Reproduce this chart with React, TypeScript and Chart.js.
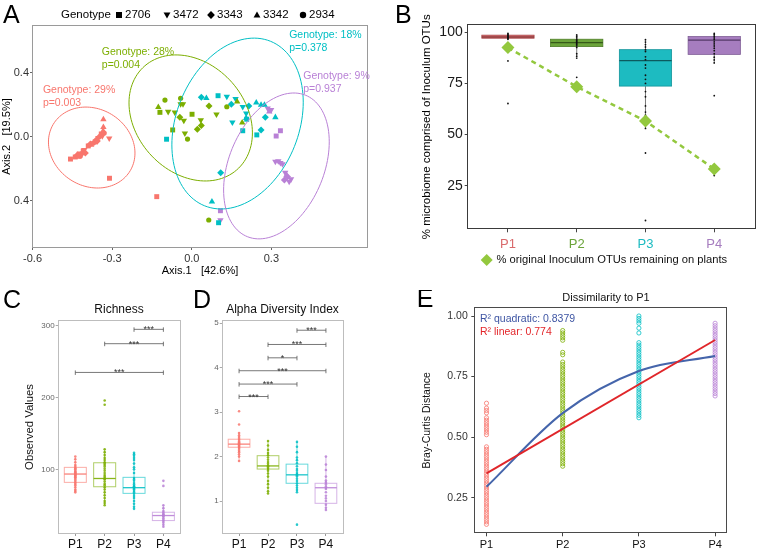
import React, { useEffect, useRef } from "react";
import { Chart, registerables } from "chart.js";

Chart.register(...registerables);

const FONT = "'Liberation Sans', Arial, Helvetica, sans-serif";
const f = (size: number) => `${size}px ${FONT}`;

/* ---------------- shared categories ---------------- */
const stages = ["P1", "P2", "P3", "P4"];
const stageColors = ["#F8766D", "#7CAE00", "#00BFC4", "#B981D6"];
const stageBoxFill = ["#D96A6C", "#6BA43A", "#1DBBC1", "#A67DBF"];
const stageBoxLine = ["#A94B4D", "#4E7E27", "#13949A", "#7E5C95"];
const stageMedian = ["#6E2B2D", "#36591A", "#0C5A5E", "#553A68"];

/* ---------------- A: PCoA (x, y, genotype index) ---------------- */
const genotypes = ["2706", "3472", "3343", "3342", "2934"];
const pcoaP1: [number, number, number][] = [
  [-0.457, -0.138, 0], [-0.439, -0.125, 0], [-0.431, -0.113, 2], [-0.424, -0.106, 0],
  [-0.42, -0.119, 4], [-0.412, -0.1, 2], [-0.427, -0.125, 3], [-0.409, -0.088, 0],
  [-0.405, -0.081, 1], [-0.401, -0.1, 2], [-0.39, -0.056, 0], [-0.382, -0.044, 2],
  [-0.379, -0.05, 3], [-0.371, -0.038, 4], [-0.364, -0.031, 0], [-0.36, -0.019, 2],
  [-0.352, -0.006, 1], [-0.345, 0.006, 2], [-0.341, 0.019, 0], [-0.334, 0.038, 3],
  [-0.33, 0.025, 4], [-0.337, 0.006, 1], [-0.356, -0.025, 2], [-0.333, 0.11, 3],
  [-0.333, 0.061, 3], [-0.311, -0.008, 1], [-0.31, -0.258, 0], [-0.132, -0.373, 0],
];
const pcoaP2: [number, number, number][] = [
  [-0.126, 0.186, 3], [-0.12, 0.154, 0], [-0.101, 0.231, 4], [-0.042, 0.242, 4],
  [-0.042, 0.206, 1], [-0.033, 0.206, 1], [-0.089, 0.158, 1], [-0.064, 0.154, 1],
  [-0.045, 0.123, 2], [0.001, 0.142, 0], [-0.03, 0.102, 1], [0.065, 0.194, 2],
  [0.093, 0.142, 1], [0.034, 0.106, 1], [0.036, 0.071, 2], [0.021, 0.048, 2],
  [-0.072, 0.044, 0], [-0.026, 0.023, 1], [-0.016, -0.013, 4], [0.132, 0.189, 4],
  [0.171, 0.221, 3], [0.19, 0.089, 3], [0.064, -0.519, 4],
];
const pcoaP3: [number, number, number][] = [
  [-0.095, -0.014, 0], [0.036, 0.248, 2], [0.055, 0.242, 3], [0.099, 0.258, 0],
  [0.132, 0.252, 1], [0.165, 0.238, 1], [0.149, 0.204, 2], [0.192, 0.189, 1],
  [0.215, 0.194, 2], [0.205, 0.148, 1], [0.205, 0.117, 3], [0.207, 0.111, 0],
  [0.153, 0.092, 1], [0.243, 0.214, 3], [0.261, 0.2, 3], [0.274, 0.2, 3],
  [0.277, 0.123, 2], [0.315, 0.123, 3], [0.192, 0.039, 0], [0.261, 0.044, 2],
  [0.245, 0.013, 0], [0.109, -0.223, 2], [0.076, -0.404, 3], [0.101, -0.536, 0],
];
const pcoaP4: [number, number, number][] = [
  [0.286, 0.179, 1], [0.299, 0.169, 1], [0.292, 0.158, 3], [0.334, 0.039, 0],
  [0.318, 0.006, 0], [0.315, -0.154, 1], [0.334, -0.161, 1], [0.342, -0.169, 1],
  [0.326, -0.15, 1], [0.352, -0.223, 1], [0.361, -0.248, 2], [0.374, -0.264, 1],
  [0.349, -0.269, 2], [0.367, -0.279, 1], [0.357, -0.238, 3], [0.108, -0.461, 0],
  [0.108, -0.519, 1],
];
// confidence ellipses: centre, x/y half-extent, tilt (cosine of phase)
const ellipseCx = [-0.377, -0.004, 0.1725, 0.319];
const ellipseCy = [-0.066, 0.119, 0.084, -0.181];
const ellipseRx = [0.163, 0.2325, 0.2475, 0.199];
const ellipseRy = [0.253, 0.394, 0.534, 0.456];
const ellipseTilt = [-0.136, -0.238, 0.25, 0.33];
const genotypeR2 = ["29%", "28%", "18%", "9%"];
const genotypeP = ["0.003", "0.004", "0.378", "0.937"];
const pcoaXTicks = [-0.6, -0.3, 0, 0.3];
const pcoaYTicks = [-0.4, 0, 0.4];

/* ---------------- B: inoculum OTUs ---------------- */
const inocQ1 = [97.1, 93.0, 73.7, 89.2];
const inocMed = [97.7, 94.9, 86.1, 96.2];
const inocQ3 = [98.6, 96.6, 91.5, 97.9];
const inocLo = [96.6, 88.5, 53.0, 85.0];
const inocHi = [99.5, 98.7, 96.6, 99.5];
const inocDotsP1 = [99.5, 99.0, 98.6, 98.2, 97.9, 97.6, 97.3, 97.0, 96.6, 86.0, 65.2];
const inocDotsP2 = [98.7, 98.0, 97.3, 96.5, 96.0, 95.5, 95.0, 94.5, 94.0, 93.4, 92.6, 89.5, 88.3, 87.4, 78.0];
const inocDotsP3 = [96.4, 95.2, 94.0, 92.8, 91.5, 90.6, 88.0, 86.6, 84.0, 82.5, 79.0, 77.0, 75.0, 71.0, 68.5, 64.0, 61.0, 59.5, 54.5, 53.0, 41.0, 8.0];
const inocDotsP4 = [99.5, 98.8, 98.0, 97.2, 96.4, 95.3, 94.3, 93.3, 92.2, 91.0, 89.5, 87.8, 86.5, 85.0, 69.0, 30.0];
const remainingPct = [92.5, 73.4, 56.6, 33.2];
const inocYTicks = [25, 50, 75, 100];

/* ---------------- C: richness ---------------- */
const richQ1 = [81.9, 75.8, 66.6, 28.7];
const richMed = [93.5, 87.3, 74.5, 35.7];
const richQ3 = [102.8, 109.2, 88.9, 40.3];
const richLo = [68, 50, 45, 20];
const richHi = [117, 128, 123, 50];
const richDotsP1 = [68, 70, 72, 75, 78, 80, 82, 84, 86, 88, 89, 90, 91, 92, 93, 94, 95, 96, 97, 98, 100, 101, 102, 104, 106, 110, 114, 118];
const richDotsP2 = [50, 53, 56, 60, 64, 68, 72, 75, 78, 80, 83, 86, 87, 88, 90, 92, 95, 98, 101, 104, 106, 108, 110, 113, 116, 120, 124, 128, 190, 196];
const richDotsP3 = [45, 48, 52, 56, 60, 63, 66, 68, 70, 72, 73, 74, 75, 76, 77, 79, 81, 84, 86, 88, 95, 100, 103, 108, 113, 116, 119, 121, 123];
const richDotsP4 = [20, 23, 26, 28, 30, 32, 34, 35, 36, 37, 38, 40, 42, 46, 50, 77, 84];
const richSigFrom = [3, 2, 1];
const richSigTo = [4, 4, 4];
const richSigY = [295, 275, 235];
const richSigLabel = ["***", "***", "***"];
const richYTicks = [100, 200, 300];

/* ---------------- D: alpha diversity ---------------- */
const alphaQ1 = [2.21, 1.72, 1.40, 0.95];
const alphaMed = [2.28, 1.79, 1.59, 1.30];
const alphaQ3 = [2.39, 2.02, 1.83, 1.40];
const alphaLo = [1.9, 1.17, 1.2, 0.8];
const alphaHi = [2.55, 2.35, 2.33, 2.0];
const alphaDotsP1 = [1.9, 2.0, 2.05, 2.1, 2.13, 2.17, 2.2, 2.22, 2.24, 2.26, 2.28, 2.3, 2.32, 2.34, 2.37, 2.4, 2.44, 2.48, 2.53, 2.72, 3.02];
const alphaDotsP2 = [1.17, 1.22, 1.3, 1.38, 1.45, 1.55, 1.62, 1.68, 1.72, 1.75, 1.78, 1.8, 1.84, 1.88, 1.93, 1.98, 2.03, 2.08, 2.15, 2.25, 2.35];
const alphaDotsP3 = [0.47, 1.2, 1.25, 1.3, 1.35, 1.4, 1.45, 1.5, 1.55, 1.58, 1.6, 1.63, 1.68, 1.72, 1.78, 1.85, 1.92, 1.98, 2.1, 2.22, 2.33];
const alphaDotsP4 = [0.8, 0.85, 0.92, 1.0, 1.06, 1.12, 1.2, 1.27, 1.3, 1.33, 1.38, 1.42, 1.46, 1.55, 1.7, 1.82, 2.0];
const alphaSigFrom = [3, 2, 2, 1, 1, 1];
const alphaSigTo = [4, 4, 3, 4, 3, 2];
const alphaSigY = [4.84, 4.52, 4.22, 3.93, 3.63, 3.35];
const alphaSigLabel = ["***", "***", "*", "***", "***", "***"];
const alphaYTicks = [1, 2, 3, 4, 5];

/* ---------------- E: Bray-Curtis to P1 ---------------- */
const brayP1 = [0.14, 0.15, 0.16, 0.17, 0.18, 0.19, 0.20, 0.21, 0.22, 0.23, 0.24, 0.25, 0.26, 0.27, 0.28, 0.29, 0.30, 0.31, 0.32, 0.33, 0.34, 0.35, 0.36, 0.37, 0.38, 0.39, 0.40, 0.41, 0.42, 0.43, 0.44, 0.45, 0.46, 0.51, 0.52, 0.53, 0.54, 0.55, 0.56, 0.57, 0.58, 0.60, 0.61, 0.62, 0.64];
const brayP2 = [0.38, 0.39, 0.40, 0.41, 0.42, 0.43, 0.44, 0.45, 0.46, 0.47, 0.48, 0.49, 0.50, 0.51, 0.52, 0.53, 0.54, 0.55, 0.56, 0.57, 0.58, 0.59, 0.60, 0.61, 0.62, 0.63, 0.64, 0.65, 0.66, 0.67, 0.68, 0.69, 0.70, 0.71, 0.72, 0.73, 0.74, 0.75, 0.76, 0.77, 0.78, 0.79, 0.80, 0.81, 0.84, 0.85, 0.90, 0.91, 0.92, 0.93, 0.94];
const brayP3 = [0.58, 0.59, 0.60, 0.61, 0.62, 0.63, 0.64, 0.65, 0.66, 0.67, 0.68, 0.69, 0.70, 0.71, 0.72, 0.73, 0.74, 0.75, 0.76, 0.77, 0.78, 0.79, 0.80, 0.81, 0.82, 0.83, 0.84, 0.85, 0.86, 0.87, 0.88, 0.89, 0.93, 0.95, 0.97, 0.98, 0.99, 1.00];
const brayP4 = [0.67, 0.68, 0.69, 0.70, 0.71, 0.72, 0.73, 0.74, 0.75, 0.76, 0.77, 0.78, 0.79, 0.80, 0.81, 0.82, 0.83, 0.84, 0.85, 0.86, 0.87, 0.88, 0.89, 0.90, 0.91, 0.92, 0.93, 0.94, 0.95, 0.96, 0.97];
const quadFit = [0.295, 0.599, 0.773, 0.835];
const linearFitEnds = [0.35, 0.901];
const brayYTicks = [0.25, 0.5, 0.75, 1.0];

/* ---------------- helpers ---------------- */
function hexA(hex: string, a: number) {
  const n = parseInt(hex.slice(1), 16);
  return `rgba(${(n >> 16) & 255},${(n >> 8) & 255},${n & 255},${a})`;
}

type TextItem = {
  text: string; x: number; y: number; font: string; color?: string;
  align?: CanvasTextAlign; baseline?: CanvasTextBaseline; data?: boolean;
};

function textPlugin(items: TextItem[]) {
  return {
    id: "texts",
    afterDraw(chart: any) {
      const ctx = chart.ctx as CanvasRenderingContext2D;
      ctx.save();
      for (const t of items) {
        const x = t.data ? chart.scales.x.getPixelForValue(t.x) : t.x;
        const y = t.data ? chart.scales.y.getPixelForValue(t.y) : t.y;
        ctx.font = t.font;
        ctx.fillStyle = t.color ?? "#000";
        ctx.textAlign = t.align ?? "left";
        ctx.textBaseline = t.baseline ?? "middle";
        ctx.fillText(t.text, x, y);
      }
      ctx.restore();
    },
  };
}

function drawShape(ctx: CanvasRenderingContext2D, shape: number, x: number, y: number, r: number, color: string) {
  ctx.fillStyle = color;
  ctx.beginPath();
  if (shape === 0) ctx.rect(x - r, y - r, 2 * r, 2 * r);
  else if (shape === 1) { ctx.moveTo(x - r * 1.15, y - r * 0.8); ctx.lineTo(x + r * 1.15, y - r * 0.8); ctx.lineTo(x, y + r * 1.2); ctx.closePath(); }
  else if (shape === 2) { ctx.moveTo(x, y - r * 1.3); ctx.lineTo(x + r * 1.3, y); ctx.lineTo(x, y + r * 1.3); ctx.lineTo(x - r * 1.3, y); ctx.closePath(); }
  else if (shape === 3) { ctx.moveTo(x - r * 1.15, y + r * 0.8); ctx.lineTo(x + r * 1.15, y + r * 0.8); ctx.lineTo(x, y - r * 1.2); ctx.closePath(); }
  else ctx.arc(x, y, r, 0, Math.PI * 2);
  ctx.fill();
}

function shapePlugin(items: { shape: number; x: number; y: number; r: number; color: string }[]) {
  return {
    id: "shapes",
    afterDraw(chart: any) {
      const ctx = chart.ctx as CanvasRenderingContext2D;
      ctx.save();
      for (const s of items) drawShape(ctx, s.shape, s.x, s.y, s.r, s.color);
      ctx.restore();
    },
  };
}

function framePlugin(color: string) {
  return {
    id: "frame",
    afterDatasetsDraw(chart: any) {
      const { ctx, chartArea: a } = chart;
      ctx.save();
      ctx.strokeStyle = color;
      ctx.lineWidth = 1;
      ctx.strokeRect(Math.round(a.left) + 0.5, Math.round(a.top) + 0.5, Math.round(a.right - a.left) - 1, Math.round(a.bottom - a.top) - 1);
      ctx.restore();
    },
  };
}

type Box = {
  x: number; q1: number; med: number; q3: number; lo: number; hi: number; half: number;
  fill: string; stroke: string; median: string; whisker: string; lw: number; medLw: number;
};

function boxPlugin(boxes: Box[]) {
  return {
    id: "boxes",
    beforeDatasetsDraw(chart: any) {
      const { ctx } = chart;
      const xs = chart.scales.x, ys = chart.scales.y;
      ctx.save();
      for (const b of boxes) {
        const cx = xs.getPixelForValue(b.x);
        const x0 = xs.getPixelForValue(b.x - b.half);
        const x1 = xs.getPixelForValue(b.x + b.half);
        const yq1 = ys.getPixelForValue(b.q1);
        const yq3 = ys.getPixelForValue(b.q3);
        ctx.strokeStyle = b.whisker;
        ctx.lineWidth = b.lw;
        ctx.beginPath();
        ctx.moveTo(cx, ys.getPixelForValue(b.hi)); ctx.lineTo(cx, yq3);
        ctx.moveTo(cx, yq1); ctx.lineTo(cx, ys.getPixelForValue(b.lo));
        ctx.stroke();
        ctx.fillStyle = b.fill;
        ctx.fillRect(x0, yq3, x1 - x0, yq1 - yq3);
        ctx.strokeStyle = b.stroke;
        ctx.strokeRect(x0, yq3, x1 - x0, yq1 - yq3);
        const ym = ys.getPixelForValue(b.med);
        ctx.strokeStyle = b.median;
        ctx.lineWidth = b.medLw;
        ctx.beginPath(); ctx.moveTo(x0, ym); ctx.lineTo(x1, ym); ctx.stroke();
      }
      ctx.restore();
    },
  };
}

function bracketPlugin(from: number[], to: number[], ys: number[], labels: string[]) {
  return {
    id: "brackets",
    afterDatasetsDraw(chart: any) {
      const { ctx } = chart;
      const sx = chart.scales.x, sy = chart.scales.y;
      ctx.save();
      ctx.strokeStyle = "#555";
      ctx.lineWidth = 0.8;
      ctx.fillStyle = "#333";
      ctx.font = f(9);
      ctx.textAlign = "center";
      ctx.textBaseline = "alphabetic";
      from.forEach((a, i) => {
        const xa = sx.getPixelForValue(a), xb = sx.getPixelForValue(to[i]), y = sy.getPixelForValue(ys[i]);
        ctx.beginPath();
        ctx.moveTo(xa, y); ctx.lineTo(xb, y);
        ctx.moveTo(xa, y - 2); ctx.lineTo(xa, y + 2.5);
        ctx.moveTo(xb, y - 2); ctx.lineTo(xb, y + 2.5);
        ctx.stroke();
        ctx.fillText(labels[i], (xa + xb) / 2, y + 3);
      });
      ctx.restore();
    },
  };
}

function ellipsePlugin() {
  return {
    id: "ellipses",
    afterDatasetsDraw(chart: any) {
      const { ctx, chartArea: a } = chart;
      const sx = chart.scales.x, sy = chart.scales.y;
      ctx.save();
      ctx.beginPath(); ctx.rect(a.left, a.top, a.right - a.left, a.bottom - a.top); ctx.clip();
      ctx.lineWidth = 1;
      ellipseCx.forEach((cx, i) => {
        const phi = Math.acos(ellipseTilt[i]);
        ctx.strokeStyle = stageColors[i];
        ctx.beginPath();
        for (let k = 0; k <= 120; k++) {
          const t = (k / 120) * Math.PI * 2;
          const px = sx.getPixelForValue(cx + ellipseRx[i] * Math.cos(t));
          const py = sy.getPixelForValue(ellipseCy[i] + ellipseRy[i] * Math.cos(t - phi));
          if (k === 0) ctx.moveTo(px, py); else ctx.lineTo(px, py);
        }
        ctx.stroke();
      });
      ctx.restore();
    },
  };
}

function linAxis(o: {
  min: number; max: number; ticks: number[]; fmt: (v: number) => string; size: number;
  color: any; tl: number; pad: number; tickColor: string; w?: number; h?: number;
  title?: { text: string; size: number; padding: any; color?: string };
}) {
  return {
    type: "linear",
    min: o.min,
    max: o.max,
    afterFit: (s: any) => {
      if (o.w !== undefined) s.width = o.w;
      if (o.h !== undefined) s.height = o.h;
    },
    afterBuildTicks: (s: any) => {
      s.ticks = o.ticks.map((v) => ({ value: v }));
    },
    ticks: {
      autoSkip: false, maxRotation: 0, minRotation: 0, padding: o.pad, color: o.color,
      font: { family: FONT, size: o.size }, callback: (v: any) => o.fmt(Number(v)),
    },
    grid: { display: true, drawOnChartArea: false, drawTicks: true, tickLength: o.tl, color: o.tickColor, lineWidth: 1 },
    border: { display: false },
    title: o.title
      ? { display: true, text: o.title.text, color: o.title.color ?? "#000", font: { family: FONT, size: o.title.size }, padding: o.title.padding }
      : { display: false },
  };
}

const baseOptions = {
  responsive: false,
  maintainAspectRatio: false,
  animation: false,
  events: [],
};
const noPlugins = { legend: { display: false }, tooltip: { enabled: false } };

/* ---------------- panel builders ---------------- */
function buildA() {
  const groups = [pcoaP1, pcoaP2, pcoaP3, pcoaP4];
  const style = ["rect", "triangle", "rectRot", "triangle", "circle"];
  const rad = [3.5, 3.7, 3.5, 3.7, 2.6];
  const labelX = [-0.561, -0.339, 0.367, 0.42];
  const labelY = [0.294, 0.531, 0.6375, 0.381];
  const texts: TextItem[] = [{ text: "A", x: 3, y: 23, font: f(25), baseline: "alphabetic" }];
  genotypeR2.forEach((r, i) => {
    texts.push({ text: `Genotype: ${r}`, x: labelX[i], y: labelY[i], data: true, font: f(10.5), color: stageColors[i] });
    texts.push({ text: `p=${genotypeP[i]}`, x: labelX[i], y: labelY[i] - 0.08, data: true, font: f(10.5), color: stageColors[i] });
  });
  const legendShapeX = [119, 167, 211, 257, 303];
  texts.push({ text: "Genotype", x: 61, y: 15, font: f(11.5) });
  genotypes.forEach((g, i) => texts.push({ text: g, x: legendShapeX[i] + 6, y: 15, font: f(11.5) }));
  const shapes = genotypes.map((_, i) => ({ shape: i, x: legendShapeX[i], y: 15, r: i === 4 ? 3.2 : 3, color: "#000" }));
  return {
    type: "scatter",
    data: {
      datasets: groups.map((pts, gi) => ({
        data: pts.map((p) => ({ x: p[0], y: p[1] })),
        pointStyle: pts.map((p) => style[p[2]]),
        pointRotation: pts.map((p) => (p[2] === 1 ? 180 : 0)),
        pointRadius: pts.map((p) => rad[p[2]]),
        pointBackgroundColor: stageColors[gi],
        pointBorderWidth: 0,
      })),
    },
    options: {
      ...baseOptions,
      layout: { padding: { left: 0, top: 25, right: 3, bottom: 0 } },
      plugins: noPlugins,
      scales: {
        x: linAxis({
          min: -0.602, max: 0.664, ticks: pcoaXTicks, fmt: (v) => v.toFixed(1), size: 11, color: "#333",
          tl: 2, pad: 2, tickColor: "#666", h: 42,
          title: { text: "Axis.1   [42.6%]", size: 11, padding: { top: 0, bottom: 12 } },
        }),
        y: linAxis({
          min: -0.694, max: 0.70, ticks: pcoaYTicks, fmt: (v) => Math.abs(v).toFixed(1), size: 11, color: "#333",
          tl: 2, pad: 1, tickColor: "#666", w: 32,
          title: { text: "Axis.2   [19.5%]", size: 11, padding: { top: 0.5, bottom: 0 } },
        }),
      },
    },
    plugins: [framePlugin("#9a9a9a"), ellipsePlugin(), textPlugin(texts), shapePlugin(shapes)],
  };
}

function buildB() {
  const LIME = "#93C83E";
  const dots = [inocDotsP1, inocDotsP2, inocDotsP3, inocDotsP4];
  const boxes: Box[] = stages.map((_, i) => ({
    x: i + 1, q1: inocQ1[i], med: inocMed[i], q3: inocQ3[i], lo: inocLo[i], hi: inocHi[i], half: 0.38,
    fill: stageBoxFill[i], stroke: stageBoxLine[i], median: stageMedian[i], whisker: "#555", lw: 0.8, medLw: 1.2,
  }));
  const texts: TextItem[] = [
    { text: "B", x: 23, y: 23, font: f(25), baseline: "alphabetic" },
    { text: "% original Inoculum OTUs remaining on plants", x: 124.5, y: 260, font: f(11.2), color: "#111" },
  ];
  return {
    type: "scatter",
    data: {
      datasets: [
        {
          data: remainingPct.map((v, i) => ({ x: i + 1, y: v })),
          showLine: true, borderColor: LIME, borderWidth: 2.5, borderDash: [5, 4],
          pointStyle: "rectRot", pointRadius: 6.5, pointBackgroundColor: LIME, pointBorderWidth: 0,
        },
        ...dots.map((d, i) => ({
          data: d.map((v) => ({ x: i + 1, y: v })),
          pointRadius: 0.9, pointBackgroundColor: "#111", pointBorderWidth: 0,
        })),
      ],
    },
    options: {
      ...baseOptions,
      layout: { padding: { left: 0, top: 24.3, right: 2, bottom: 0 } },
      plugins: noPlugins,
      scales: {
        x: linAxis({
          min: 0.4, max: 4.6, ticks: [1, 2, 3, 4], fmt: (v) => stages[v - 1], size: 13,
          color: (c: any) => stageBoxFill[c.index] ?? "#000", tl: 3, pad: 4, tickColor: "#444", h: 60.7,
        }),
        y: linAxis({
          min: 3.7, max: 103.9, ticks: inocYTicks, fmt: (v) => String(v), size: 14, color: "#1a1a1a",
          tl: 2, pad: 2, tickColor: "#444", w: 94.7,
          title: { text: "% microbiome comprised of Inoculum OTUs", size: 11.5, padding: { top: 47.8, bottom: 0 } },
        }),
      },
    },
    plugins: [boxPlugin(boxes), framePlugin("#3a3a3a"), textPlugin(texts), shapePlugin([{ shape: 2, x: 114.7, y: 260, r: 4.6, color: LIME }])],
  };
}

function buildBoxPanel(
  letter: string, title: string, titleX: number, yTitle: string | null,
  q1: number[], med: number[], q3: number[], lo: number[], hi: number[], dots: number[][],
  yMin: number, yMax: number, yTicks: number[], fmt: (v: number) => string,
  sigFrom: number[], sigTo: number[], sigY: number[], sigLabel: string[],
  yW: number, padRight: number, letterX: number,
) {
  const boxes: Box[] = stages.map((_, i) => ({
    x: i + 1, q1: q1[i], med: med[i], q3: q3[i], lo: lo[i], hi: hi[i], half: 0.375,
    fill: "rgba(255,255,255,0)", stroke: hexA(stageColors[i], 0.6), median: hexA(stageColors[i], 0.9),
    whisker: hexA(stageColors[i], 0.6), lw: 1, medLw: 1.3,
  }));
  const texts: TextItem[] = [
    { text: letter, x: letterX, y: 18, font: f(25), baseline: "alphabetic" },
    { text: title, x: titleX, y: 20, font: f(12), align: "center", color: "#111" },
  ];
  return {
    type: "scatter",
    data: {
      datasets: dots.map((d, i) => ({
        data: d.map((v) => ({ x: i + 1, y: v })),
        pointRadius: 1.3, pointBackgroundColor: hexA(stageColors[i], 0.85), pointBorderWidth: 0,
      })),
    },
    options: {
      ...baseOptions,
      layout: { padding: { left: 0, top: 30, right: padRight, bottom: 0 } },
      plugins: noPlugins,
      scales: {
        x: linAxis({
          min: 0.4, max: 4.6, ticks: [1, 2, 3, 4], fmt: (v) => stages[v - 1], size: 12, color: "#111",
          tl: 2, pad: 1, tickColor: "#999", h: 16,
        }),
        y: linAxis({
          min: yMin, max: yMax, ticks: yTicks, fmt, size: 8, color: "#666",
          tl: 2, pad: 1, tickColor: "#aaa", w: yW,
          title: yTitle ? { text: yTitle, size: 11.3, padding: { top: 23.2, bottom: 0 }, color: "#111" } : undefined,
        }),
      },
    },
    plugins: [boxPlugin(boxes), framePlugin("#bdbdbd"), bracketPlugin(sigFrom, sigTo, sigY, sigLabel), textPlugin(texts)],
  };
}

function buildC() {
  return buildBoxPanel("C", "Richness", 119, "Observed Values",
    richQ1, richMed, richQ3, richLo, richHi, [richDotsP1, richDotsP2, richDotsP3, richDotsP4],
    10, 308, richYTicks, (v) => String(v), richSigFrom, richSigTo, richSigY, richSigLabel, 57.7, 5, 3);
}

function buildD() {
  return buildBoxPanel("D", "Alpha Diversity Index", 96.5, null,
    alphaQ1, alphaMed, alphaQ3, alphaLo, alphaHi, [alphaDotsP1, alphaDotsP2, alphaDotsP3, alphaDotsP4],
    0.26, 5.07, alphaYTicks, (v) => String(v), alphaSigFrom, alphaSigTo, alphaSigY, alphaSigLabel, 35.7, 28.7, 7);
}

function buildE() {
  const cols = [brayP1, brayP2, brayP3, brayP4];
  const texts: TextItem[] = [
    { text: "E", x: 44.7, y: 17, font: f(25), baseline: "alphabetic" },
    { text: "Dissimilarity to P1", x: 234, y: 8, font: f(11), align: "center", color: "#111" },
    { text: "R² quadratic: 0.8379", x: 108, y: 29.3, font: f(10.5), color: "#3E55A3" },
    { text: "R² linear: 0.774", x: 108, y: 41.7, font: f(10.5), color: "#E3262A" },
  ];
  return {
    type: "scatter",
    data: {
      datasets: [
        {
          data: [{ x: 1, y: linearFitEnds[0] }, { x: 4, y: linearFitEnds[1] }],
          showLine: true, borderColor: "#E0262A", borderWidth: 2, pointRadius: 0,
        },
        {
          data: quadFit.map((v, i) => ({ x: i + 1, y: v })),
          showLine: true, borderColor: "#4565AB", borderWidth: 2, pointRadius: 0, cubicInterpolationMode: "monotone",
        },
        ...cols.map((d, i) => ({
          data: d.map((v) => ({ x: i + 1, y: v })),
          pointStyle: "circle", pointRadius: 2.1, pointBorderWidth: 0.8,
          pointBackgroundColor: "rgba(0,0,0,0)", pointBorderColor: stageColors[i],
        })),
      ],
    },
    options: {
      ...baseOptions,
      layout: { padding: { left: 0, top: 17.3, right: 34.7, bottom: 0 } },
      plugins: noPlugins,
      scales: {
        x: linAxis({
          min: 0.84, max: 4.16, ticks: [1, 2, 3, 4], fmt: (v) => stages[v - 1], size: 11, color: "#111",
          tl: 3, pad: 2, tickColor: "#444", h: 16.7,
        }),
        y: linAxis({
          min: 0.103, max: 1.036, ticks: brayYTicks, fmt: (v) => v.toFixed(2), size: 10.5, color: "#333",
          tl: 3, pad: 3.5, tickColor: "#444", w: 102.3,
          title: { text: "Bray-Curtis Distance", size: 10.5, padding: { top: 48.4, bottom: 0 }, color: "#111" },
        }),
      },
    },
    plugins: [framePlugin("#4a4a4a"), textPlugin(texts)],
  };
}

/* ---------------- React ---------------- */
function Panel({ left, top, width, height, build }: { left: number; top: number; width: number; height: number; build: () => any }) {
  const ref = useRef<HTMLCanvasElement>(null);
  useEffect(() => {
    const chart = new Chart(ref.current as HTMLCanvasElement, build());
    return () => chart.destroy();
  }, [build]);
  return (
    <canvas
      ref={ref}
      width={width}
      height={height}
      style={{ position: "absolute", left, top, width, height, display: "block" }}
    />
  );
}

export default function App() {
  return (
    <div style={{ position: "absolute", left: 0, top: 0, width: 762, height: 550, background: "#fff", overflow: "hidden" }}>
      <Panel left={0} top={0} width={372} height={290} build={buildA} />
      <Panel left={372} top={0} width={390} height={290} build={buildB} />
      <Panel left={0} top={290} width={186} height={260} build={buildC} />
      <Panel left={186} top={290} width={186} height={260} build={buildD} />
      <Panel left={372} top={290} width={390} height={260} build={buildE} />
    </div>
  );
}
